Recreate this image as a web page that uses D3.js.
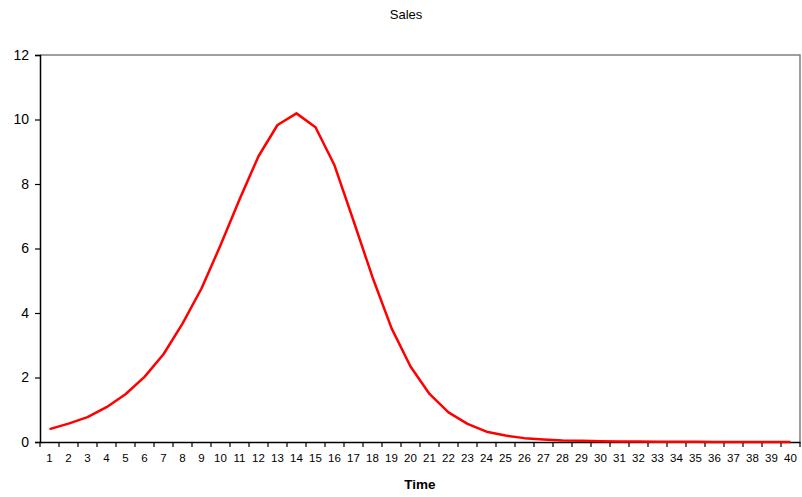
<!DOCTYPE html>
<html><head><meta charset="utf-8">
<script src="https://cdn.jsdelivr.net/npm/d3@7/dist/d3.min.js"></script>
<style>body{margin:0;background:#fff;} text{font-family:"Liberation Sans",Arial,sans-serif;}</style>
</head><body>
<svg id="c" width="802" height="497"></svg>
<script>
const categories = d3.range(1, 41).map(String);
const sales = [0.40,0.57,0.77,1.08,1.48,2.02,2.72,3.67,4.76,6.10,7.52,8.86,9.83,10.19,9.76,8.58,6.86,5.11,3.53,2.34,1.49,0.92,0.56,0.32,0.20,0.12,0.08,0.05,0.035,0.025,0.018,0.012,0.009,0.006,0.004,0.003,0.002,0.0015,0.001,0.001];
const yTicks = [0,2,4,6,8,10,12];
const title = "Sales";
const xTitle = "Time";

const svg = d3.select("#c");
const L = 40, R = 800, T = 55, B = 442;
const x = d3.scaleBand().domain(categories).range([L, R]);
const y = d3.scaleLinear().domain([0, 12]).range([B, T]);

// border top/right
svg.append("path").attr("d", `M${L},${T}H${R}V${B}`).attr("fill","none").attr("stroke","#808080").attr("stroke-width",1.5);

// y axis
const ya = svg.append("g").attr("transform", `translate(${L},0)`)
  .call(d3.axisLeft(y).tickValues(yTicks).tickSize(5).tickPadding(6));
ya.select(".domain").attr("stroke","#000").attr("stroke-width",1.5);
ya.selectAll(".tick line").attr("stroke","#000").attr("stroke-width",1.2);
ya.selectAll("text").attr("font-size", 14).attr("fill","#000").attr("font-family","Liberation Sans, Arial, sans-serif");

// x axis
const xa = svg.append("g").attr("transform", `translate(0,${B})`)
  .call(d3.axisBottom(x).tickSize(0).tickPadding(12));
xa.select(".domain").attr("stroke","#000").attr("stroke-width",1.5);
xa.selectAll("text").attr("font-size", 11.5).attr("fill","#000").attr("font-family","Liberation Sans, Arial, sans-serif");
// boundary ticks (category axis)
const bounds = categories.map(c => x(c)).concat([R]);
svg.append("g").selectAll("line").data(bounds).join("line")
  .attr("x1", d => d).attr("x2", d => d).attr("y1", B).attr("y2", B + 5)
  .attr("stroke", "#000").attr("stroke-width", 1.2);

// line
const line = d3.line().x((d, i) => x(categories[i]) + x.bandwidth() / 2).y(d => y(d));
svg.append("path").datum(sales).attr("d", line).attr("fill","none")
  .attr("stroke","#ff0000").attr("stroke-width",2.5).attr("stroke-linejoin","round");

// titles
svg.append("text").attr("x", 406).attr("y", 19).attr("text-anchor","middle")
  .attr("font-size", 13).attr("fill","#000").text(title);
svg.append("text").attr("x", 420).attr("y", 489).attr("text-anchor","middle")
  .attr("font-size", 13.5).attr("font-weight","bold").attr("fill","#000").text(xTitle);
</script>
</body></html>
